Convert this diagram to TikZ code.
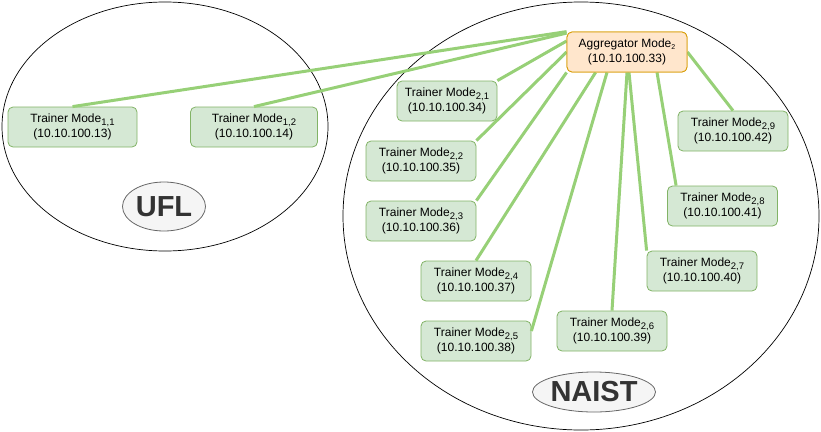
\documentclass[tikz,border=0pt]{standalone}
\usepackage{fontspec}
\setmainfont{Liberation Sans}
\usetikzlibrary{calc,shapes.geometric}
\definecolor{boxfill}{HTML}{D5E8D4}
\definecolor{boxline}{HTML}{82B366}
\definecolor{aggfill}{HTML}{FFE6CC}
\definecolor{aggline}{HTML}{D79B00}
\definecolor{wire}{HTML}{97D077}
\definecolor{tagfill}{HTML}{F5F5F5}
\definecolor{tagline}{HTML}{666666}
\definecolor{tagtext}{HTML}{333333}
\newcommand{\subtxt}[1]{\raisebox{-3pt}{\fontsize{9.5}{9.5}\selectfont #1}}
\tikzset{
  trainer/.style={draw=boxline, fill=boxfill, rounded corners=5pt, line width=0.8pt,
    minimum height=40pt, inner sep=0pt, align=center,
    font=\fontsize{12}{15}\selectfont},
  aggbox/.style={trainer, draw=aggline, fill=aggfill},
  region/.style={draw=black, line width=0.7pt, ellipse, inner sep=0pt},
  tag/.style={draw=tagline, fill=tagfill, ellipse, inner sep=0pt, line width=0.8pt,
    text=tagtext, font=\fontsize{29}{29}\selectfont\bfseries},
  link/.style={draw=wire, line width=3pt}
}
\begin{document}
\begin{tikzpicture}[x=1pt,y=-1pt]
\useasboundingbox (0,0) rectangle (821,431);
% regions
\node[region, minimum width=326pt, minimum height=249pt] (ufl) at (165,126.5) {};
\node[region, minimum width=476pt, minimum height=428pt] (naist) at (581,216) {};
% nodes
\node[aggbox, minimum width=120pt] (agg) at (627,52) {Aggregator Mode\raisebox{-1.5pt}{\fontsize{7}{7}\selectfont 2}\\(10.10.100.33)};
\node[trainer, minimum width=129pt] (t11) at (72.5,127) {Trainer Mode\subtxt{1,1}\\(10.10.100.13)};
\node[trainer, minimum width=127pt] (t12) at (254,127) {Trainer Mode\subtxt{1,2}\\(10.10.100.14)};
\node[trainer, minimum width=100pt] (t21) at (447,101) {Trainer Mode\subtxt{2,1}\\(10.10.100.34)};
\node[trainer, minimum width=110pt] (t22) at (421,161) {Trainer Mode\subtxt{2,2}\\(10.10.100.35)};
\node[trainer, minimum width=110pt] (t23) at (421,221) {Trainer Mode\subtxt{2,3}\\(10.10.100.36)};
\node[trainer, minimum width=110pt] (t24) at (476,281) {Trainer Mode\subtxt{2,4}\\(10.10.100.37)};
\node[trainer, minimum width=110pt] (t25) at (476,341) {Trainer Mode\subtxt{2,5}\\(10.10.100.38)};
\node[trainer, minimum width=110pt] (t26) at (612,331) {Trainer Mode\subtxt{2,6}\\(10.10.100.39)};
\node[trainer, minimum width=110pt] (t27) at (702,271) {Trainer Mode\subtxt{2,7}\\(10.10.100.40)};
\node[trainer, minimum width=110pt] (t28) at (722.5,206) {Trainer Mode\subtxt{2,8}\\(10.10.100.41)};
\node[trainer, minimum width=110pt] (t29) at (733,131) {Trainer Mode\subtxt{2,9}\\(10.10.100.42)};
% tags
\node[tag, minimum width=83pt, minimum height=49pt] (ufltag) at (164,206.5) {UFL};
\node[tag, minimum width=120pt, minimum height=40pt] (naisttag) at (594,392) {NAIST};
% links
\draw[link] (agg.north west) -- (t11.north);
\draw[link] ($(agg.north west)+(0,1.5)$) -- (t12.north);
\draw[link] ($(agg.west)+(0,-11)$) -- (t21.north east);
\draw[link] (agg.west) -- (t22.north east);
\draw[link] (agg.south west) -- (t23.north east);
\draw[link] ($(agg.south west)+(29,0)$) -- (t24.north);
\draw[link] ($(agg.south)+(-20,0)$) -- ($(t25.east)+(0,-10)$);
\draw[link] (agg.south) -- (t26.north);
\draw[link] ($(agg.south)+(2,0)$) -- (t27.north west);
\draw[link] ($(agg.south)+(30,0)$) -- ($(t28.north west)+(9,0)$);
\draw[link] (agg.east) -- (t29.north);
% redraw aggregator over link ends
\node[aggbox, minimum width=120pt] at (agg) {Aggregator Mode\raisebox{-1.5pt}{\fontsize{7}{7}\selectfont 2}\\(10.10.100.33)};
\end{tikzpicture}
\end{document}
